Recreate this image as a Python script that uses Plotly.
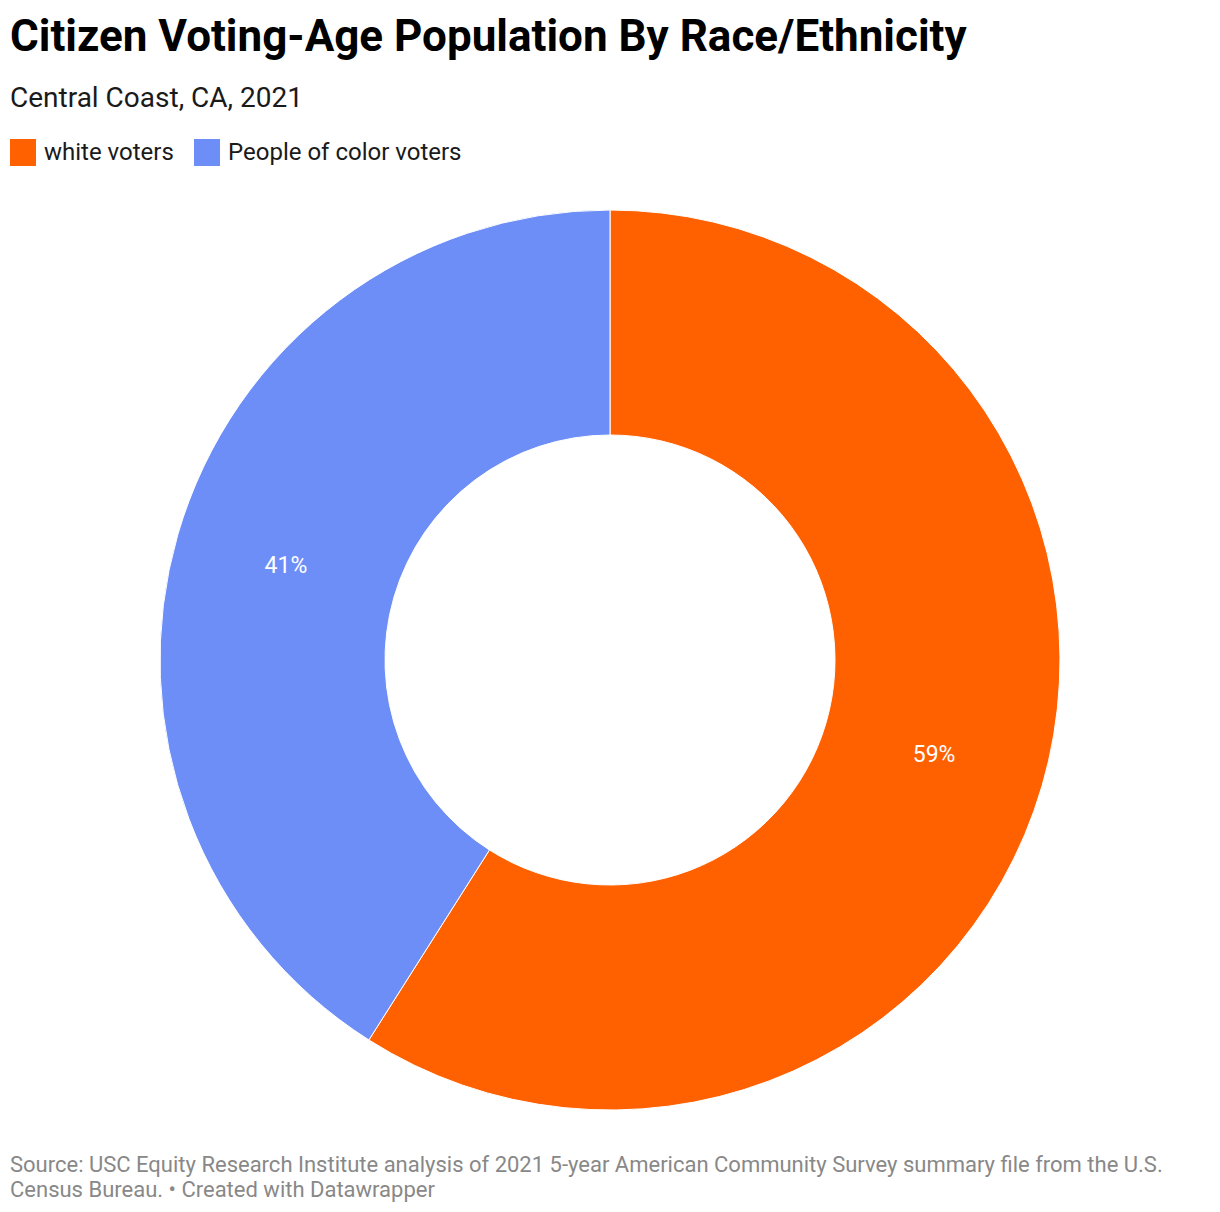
import plotly.graph_objects as go

labels = ["white voters", "People of color voters"]
values = [59, 41]
colors = ["#ff6100", "#6e8ef7"]
text_labels = ["59%", "41%"]

W, H = 1220, 1212
OFF = 8  # page body margin offset

def py(px):
    return 1 - (px - OFF) / H

def pxx(px):
    return (px - OFF) / W

fig = go.Figure()
fig.add_trace(go.Pie(
    labels=labels,
    values=values,
    hole=0.5,
    sort=False,
    direction="clockwise",
    rotation=0,
    marker=dict(colors=colors, line=dict(color="white", width=1)),
    text=text_labels,
    textinfo="text",
    textposition="inside",
    insidetextorientation="horizontal",
    insidetextfont=dict(color="white", size=23, family="Roboto"),
    domain=dict(x=[pxx(160), pxx(1060)], y=[py(1110), py(210)]),
    showlegend=False,
    hoverinfo="label+percent",
))

annotations = [
    dict(text="<b>Citizen Voting-Age Population By Race/Ethnicity</b>",
         x=pxx(8), y=py(36), xanchor="left", yanchor="middle",
         font=dict(family="Roboto", size=44, color="#000000")),
    dict(text="Central Coast, CA, 2021",
         x=pxx(8), y=py(97), xanchor="left", yanchor="middle",
         font=dict(family="Roboto", size=28, color="#1a1a1a")),
    dict(text="Source: USC Equity Research Institute analysis of 2021 5-year American Community Survey summary file from the U.S.",
         x=pxx(8), y=py(1164), xanchor="left", yanchor="middle", align="left",
         font=dict(family="Roboto", size=22, color="#888888")),
    dict(text="Census Bureau. • Created with Datawrapper",
         x=pxx(8), y=py(1189), xanchor="left", yanchor="middle", align="left",
         font=dict(family="Roboto", size=22, color="#888888")),
]

shapes = []
legend_x = [10, 194]
for i, (lab, col) in enumerate(zip(labels, colors)):
    x0 = legend_x[i]
    shapes.append(dict(type="rect", xref="paper", yref="paper",
                       x0=pxx(x0), x1=pxx(x0 + 26), y0=py(166), y1=py(139),
                       fillcolor=col, line=dict(width=0)))
    annotations.append(dict(text=lab, x=pxx(x0 + 32), y=py(152),
                            xanchor="left", yanchor="middle",
                            font=dict(family="Roboto", size=24, color="#1a1a1a")))

for a in annotations:
    a.update(xref="paper", yref="paper", showarrow=False)

fig.update_layout(
    width=W, height=H,
    margin=dict(l=0, r=0, t=0, b=0),
    paper_bgcolor="white",
    plot_bgcolor="white",
    annotations=annotations,
    shapes=shapes,
    showlegend=False,
)

fig.write_html("out.html")
